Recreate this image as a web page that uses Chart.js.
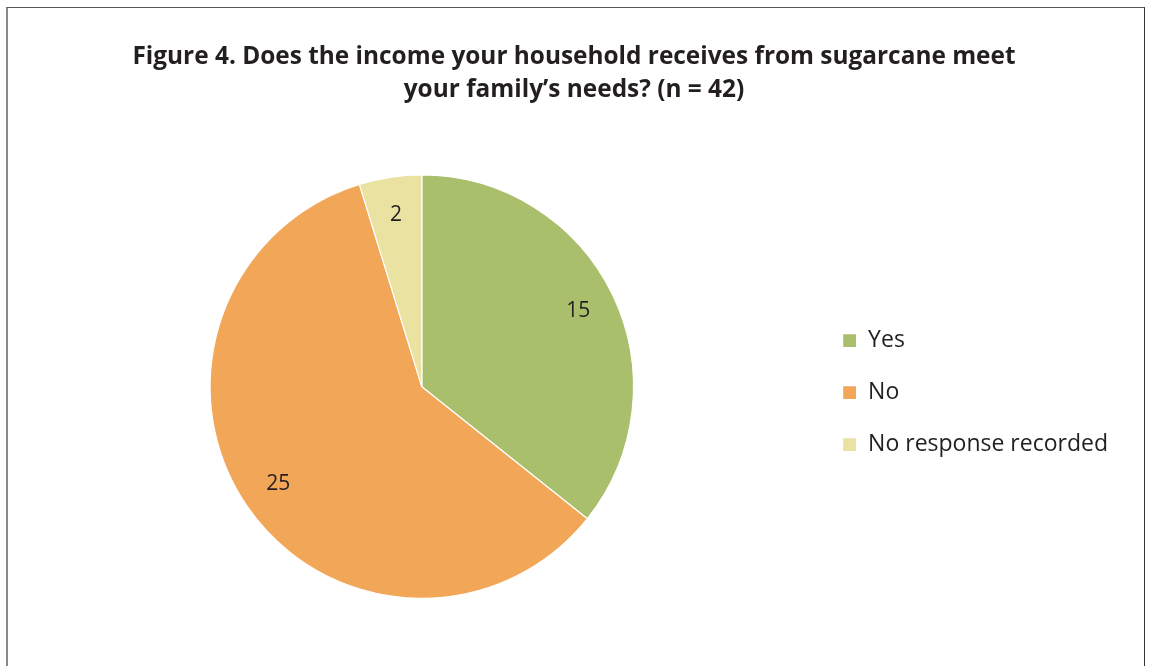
<!DOCTYPE html>
<html>
<head>
<meta charset="utf-8">
<script src="https://cdn.jsdelivr.net/npm/chart.js@4.4.1/dist/chart.umd.min.js"></script>
<style>
  html, body { margin: 0; padding: 0; background: #ffffff; overflow: hidden; }
  #frame {
    position: absolute; left: 6px; top: 7px; width: 1139px; height: 720px;
    border-top: 1.5px solid #555555; border-right: 1.5px solid #333333;
    border-left: 2px solid #8a8a8a; box-sizing: border-box;
  }
  #chart { position: absolute; left: 0; top: 0; }
</style>
</head>
<body>
<div id="frame"></div>
<canvas id="chart" width="1152" height="666"></canvas>
<script>
// Survey answers
const categories = ['Yes', 'No', 'No response recorded'];
const responses = [15, 25, 2];
const sliceColors = ['#AABF6C', '#F2A657', '#E9E2A1'];
const titleLines = [
  'Figure 4. Does the income your household receives from sugarcane meet',
  'your family\u2019s needs? (n = 42)'
];

const FONT = "'Open Sans', 'DejaVu Sans', sans-serif";
const INK = '#231F20';

// Writes each slice's count inside the slice
const sliceValueLabels = {
  id: 'sliceValueLabels',
  afterDatasetsDraw(chart) {
    const ctx = chart.ctx;
    const meta = chart.getDatasetMeta(0);
    const values = chart.data.datasets[0].data;
    ctx.save();
    ctx.font = '21px ' + FONT;
    ctx.fillStyle = INK;
    ctx.textAlign = 'center';
    ctx.textBaseline = 'middle';
    meta.data.forEach((arc, i) => {
      const p = arc.getProps(['x', 'y', 'startAngle', 'endAngle', 'outerRadius'], true);
      const mid = (p.startAngle + p.endAngle) / 2;
      const r = p.outerRadius * 0.82;
      ctx.fillText(String(values[i]), p.x + Math.cos(mid) * r, p.y + Math.sin(mid) * r);
    });
    ctx.restore();
  }
};

new Chart(document.getElementById('chart'), {
  type: 'pie',
  data: {
    labels: categories,
    datasets: [{
      data: responses,
      backgroundColor: sliceColors,
      borderColor: '#ffffff',
      borderWidth: 1.2
    }]
  },
  options: {
    responsive: false,
    animation: false,
    layout: { padding: { left: 30, right: 34, top: 0, bottom: 67 } },
    plugins: {
      title: {
        display: true,
        text: titleLines,
        color: INK,
        font: { family: FONT, size: 24.4, weight: 'bold', lineHeight: 1.36 },
        padding: { top: 40, bottom: 68 }
      },
      legend: {
        position: 'right',
        fullSize: false,
        title: { display: true, text: ' ', font: { size: 10 }, padding: 0 },
        labels: {
          color: INK,
          font: { family: FONT, size: 23 },
          boxWidth: 14,
          boxHeight: 14,
          padding: 29
        }
      },
      tooltip: { enabled: false }
    }
  },
  plugins: [sliceValueLabels]
});
</script>
</body>
</html>
